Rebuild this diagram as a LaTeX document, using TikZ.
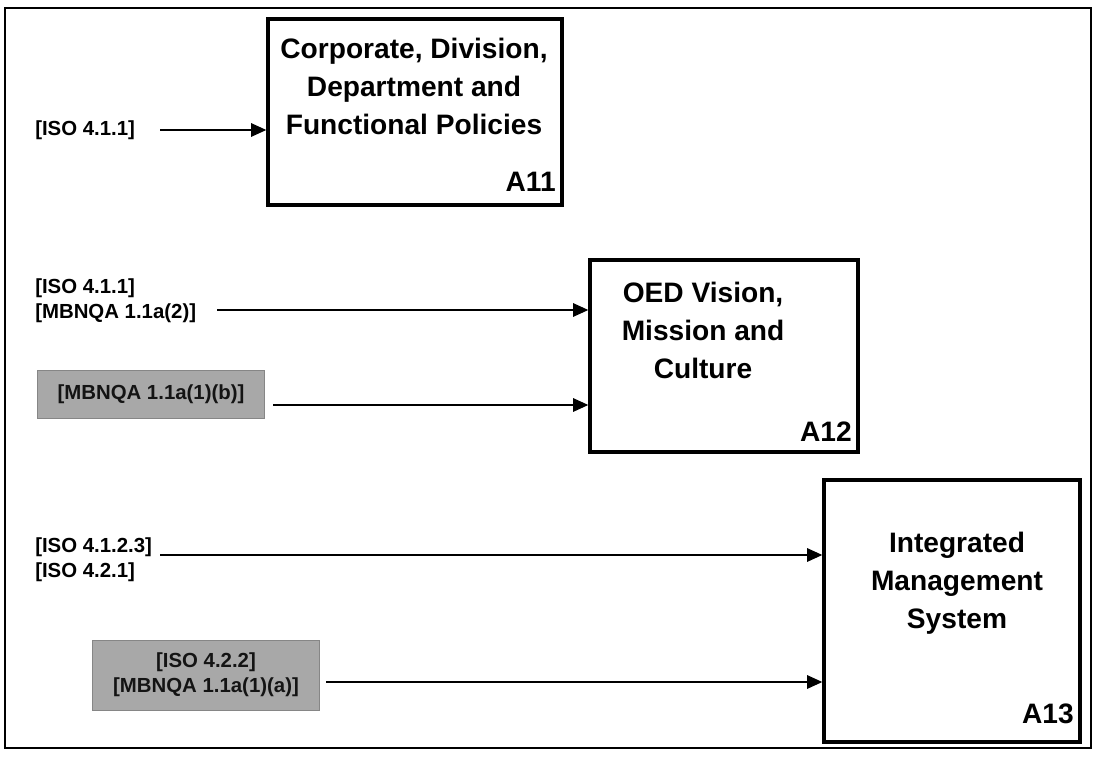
\documentclass[tikz,border=0pt]{standalone}
\usepackage{fontspec}
\setmainfont{Liberation Sans}
\usetikzlibrary{arrows.meta,positioning,calc}
\definecolor{maskgray}{RGB}{168,168,168}
\definecolor{inkgray}{RGB}{20,20,20}
\tikzset{
  procbox/.style={draw,line width=2.4pt,inner sep=0pt},
  boxtext/.style={align=center,font=\fontsize{20}{27}\selectfont\bfseries},
  boxid/.style={anchor=base east,font=\fontsize{20}{24}\selectfont\bfseries,inner sep=0pt},
  reflabel/.style={anchor=west,align=left,inner sep=0pt,font=\fontsize{14.5}{18}\selectfont\bfseries},
  hiddenref/.style={draw=maskgray!80!black,fill=maskgray,align=center,inner sep=0pt,text=inkgray,font=\fontsize{14.5}{18}\selectfont\bfseries},
  flow/.style={-{Triangle[length=3.8mm,width=3.4mm]},line width=0.8pt}
}
\begin{document}
\begin{tikzpicture}[x=0.025cm,y=-0.025cm]
\useasboundingbox (0,0) rectangle (1097,761);
\draw[line width=1.3pt] (5,8) rectangle (1091,748);
% activity boxes
\node[procbox,minimum width=7.35cm,minimum height=4.65cm] (a11) at (415,112) {};
\node[boxtext] (a11t) at (414,86) {Corporate, Division,\\Department and\\Functional Policies};
\node[boxid] (a11id) at (556,192) {A11};
\node[procbox,minimum width=6.7cm,minimum height=4.8cm] (a12) at (724,356) {};
\node[boxtext] (a12t) at (703,330) {OED Vision,\\Mission and\\Culture};
\node[boxid] (a12id) at (852,441) {A12};
\node[procbox,minimum width=6.4cm,minimum height=6.55cm] (a13) at (952,611) {};
\node[boxtext] (a13t) at (957,583) {Integrated\\Management\\System};
\node[boxid] (a13id) at (1074,723) {A13};
% inputs
\node[reflabel] (in1) at (35,130) {[ISO 4.1.1]};
\node[reflabel] (in2) at (35,301) {[ISO 4.1.1]\\{}[MBNQA 1.1a(2)]};
\node[hiddenref,minimum width=5.675cm,minimum height=1.2cm] (in3) at (151,394) {[MBNQA 1.1a(1)(b)]};
\node[reflabel] (in4) at (35,560) {[ISO 4.1.2.3]\\{}[ISO 4.2.1]};
\node[hiddenref,minimum width=5.675cm,minimum height=1.75cm] (in5) at (206,675) {[ISO 4.2.2]\\{}[MBNQA 1.1a(1)(a)]};
\coordinate (s1) at (160,130);
\coordinate (s2) at (217,310);
\coordinate (s3) at (273,405);
\coordinate (s4) at (160,555);
\coordinate (s5) at (326,682);
\draw[flow] (s1) -- (s1 -| a11.west);
\draw[flow] (s2) -- (s2 -| a12.west);
\draw[flow] (s3) -- (s3 -| a12.west);
\draw[flow] (s4) -- (s4 -| a13.west);
\draw[flow] (s5) -- (s5 -| a13.west);
\end{tikzpicture}
\end{document}
